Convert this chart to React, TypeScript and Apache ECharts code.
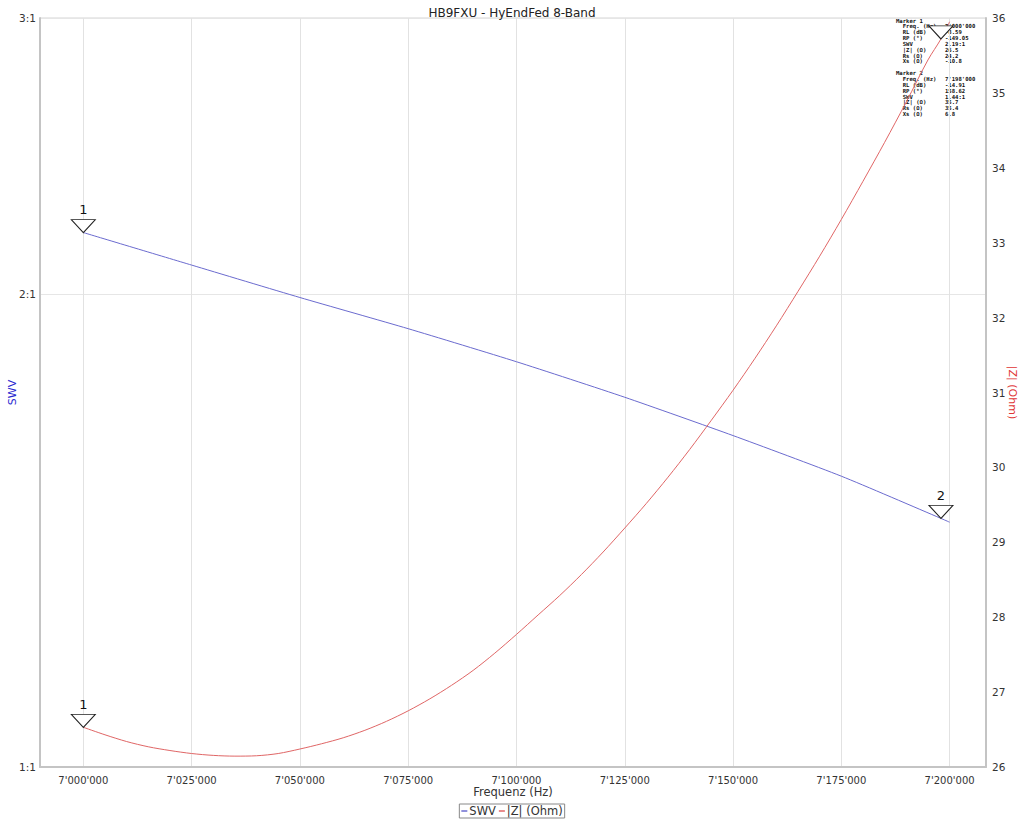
import React, { useEffect, useRef } from "react";
import * as echarts from "echarts";

const TITLE = "HB9FXU - HyEndFed 8-Band";
const X_TICKS = [7000000, 7025000, 7050000, 7075000, 7100000, 7125000, 7150000, 7175000, 7200000];
const SWV_TICKS = [1, 2, 3];

const SWV_FREQ = [7000000, 7025000, 7050000, 7075000, 7100000, 7125000, 7150000, 7175000, 7198000, 7200000];
const SWV_VALUES = [2.19, 2.088, 1.991, 1.902, 1.812, 1.72, 1.626, 1.532, 1.44, 1.432];

const Z_FREQ = [
  7000000, 7005000, 7010000, 7015000, 7020000, 7025000, 7030000, 7035000, 7040000, 7045000,
  7050000, 7055000, 7060000, 7065000, 7070000, 7075000, 7080000, 7085000, 7090000, 7095000,
  7100000, 7105000, 7110000, 7115000, 7120000, 7125000, 7130000, 7135000, 7140000, 7145000,
  7150000, 7155000, 7160000, 7165000, 7170000, 7175000, 7180000, 7185000, 7190000, 7195000,
  7198000, 7200000,
];
const Z_VALUES = [
  26.53, 26.43, 26.34, 26.27, 26.22, 26.18, 26.155, 26.145, 26.15, 26.18,
  26.24, 26.31, 26.39, 26.49, 26.61, 26.75, 26.91, 27.09, 27.29, 27.52,
  27.77, 28.03, 28.29, 28.57, 28.87, 29.19, 29.52, 29.87, 30.24, 30.63,
  31.03, 31.45, 31.89, 32.35, 32.82, 33.31, 33.82, 34.34, 34.88, 35.44,
  35.72, 35.95,
];

const MARKER1 = { freq: 7000000, swv: 2.19, z: 26.53 };
const MARKER2 = { freq: 7198000, swv: 1.44, z: 35.72 };

const INFO_LABELS = [
  "Marker 1",
  "  Freq. (Hz)",
  "  RL (dB)",
  "  RP (°)",
  "  SWV",
  "  |Z| (Ω)",
  "  Rs (Ω)",
  "  Xs (Ω)",
  "",
  "Marker 2",
  "  Freq. (Hz)",
  "  RL (dB)",
  "  RP (°)",
  "  SWV",
  "  |Z| (Ω)",
  "  Rs (Ω)",
  "  Xs (Ω)",
];
const INFO_VALUES = [
  "", "7'000'000", "-8.59", "-149.05", "2.19:1", "26.5", "24.2", "-10.8", "",
  "", "7'198'000", "-14.91", "158.62", "1.44:1", "35.7", "35.4", "6.8",
];

const BLUE = "#6b6bcf";
const RED = "#e06666";
const FONT = "'DejaVu Sans', sans-serif";

function fmtFreq(v: number) {
  const s = Math.round(v).toString();
  return s.replace(/\B(?=(\d{3})+(?!\d))/g, "'");
}

export default function App() {
  const ref = useRef<HTMLDivElement>(null);
  useEffect(() => {
    if (!ref.current) return;
    const chart = echarts.init(ref.current, null, { renderer: "svg" });

    const markerStyle = {
      symbol: "triangle",
      symbolRotate: 180,
      symbolSize: [24, 13],
      symbolOffset: [0, "-50%"],
      itemStyle: { color: "#ffffff", borderColor: "#222222", borderWidth: 1 },
      label: { show: true, position: "top", distance: 3, formatter: "{b}", color: "#111", fontSize: 13, fontFamily: FONT },
    };

    const mono = "'DejaVu Sans Mono', monospace";
    const infoGraphics: any[] = [];
    INFO_LABELS.forEach((t, i) => {
      const y = 17.5 + i * 5.85;
      if (t) {
        infoGraphics.push({
          type: "text",
          left: 896,
          top: y,
          style: { text: t.replace(/ /g, "\u00a0"), fontSize: 5.6, fontWeight: "bold", fontFamily: mono, fill: "#111" },
        });
      }
      if (INFO_VALUES[i]) {
        infoGraphics.push({
          type: "text",
          left: 945,
          top: y,
          style: { text: INFO_VALUES[i], fontSize: 5.6, fontWeight: "bold", fontFamily: mono, fill: "#111" },
        });
      }
    });

    const axisLineStyle = { show: true, lineStyle: { color: "#c4c4c4", width: 2 } };

    chart.setOption({
      animation: false,
      textStyle: { fontFamily: FONT },
      title: {
        text: TITLE,
        left: "center",
        top: 2,
        textStyle: { fontSize: 12, fontWeight: "normal", color: "#222", fontFamily: FONT },
      },
      grid: {
        left: 40, right: 38, top: 18, bottom: 52,
        show: true, borderColor: "#d4d4d4", borderWidth: 1,
        containLabel: false, outerBoundsMode: "none",
      },
      legend: {
        bottom: 1,
        left: "center",
        data: ["SWV", "|Z| (Ohm)"],
        icon: "rect",
        itemWidth: 6,
        itemHeight: 1.5,
        itemGap: 3,
        borderColor: "#888",
        borderWidth: 1,
        padding: [1, 2],
        textStyle: { fontSize: 11.5, color: "#333", padding: [0, 0, 0, -3], fontFamily: FONT },
      },
      xAxis: {
        type: "value",
        min: 6990000,
        max: 7208400,
        name: "Frequenz (Hz)",
        nameLocation: "middle",
        nameGap: 19,
        nameMoveOverlap: false,
        nameTextStyle: { fontSize: 11.5, color: "#333", verticalAlign: "top" },
        axisLine: axisLineStyle,
        axisTick: { show: false, customValues: X_TICKS },
        axisLabel: { customValues: X_TICKS, formatter: (v: number) => fmtFreq(v), fontSize: 10, color: "#333", margin: 8 },
        splitLine: { show: true, lineStyle: { color: "#e2e2e2", width: 1 } },
      },
      yAxis: [
        {
          type: "log",
          logBase: 3,
          min: 1,
          max: 3,
          position: "left",
          name: "SWV",
          nameLocation: "middle",
          nameGap: 22,
          nameMoveOverlap: false,
          nameRotate: 90,
          nameTextStyle: { fontSize: 11, color: "#2828d0" },
          axisLine: axisLineStyle,
          axisTick: { show: false, customValues: SWV_TICKS },
          axisLabel: { customValues: SWV_TICKS, formatter: (v: number) => `${Math.round(v)}:1`, fontSize: 10.5, color: "#333", margin: 4 },
          splitLine: { show: true, lineStyle: { color: "#e6e6e6", width: 1 } },
        },
        {
          type: "value",
          min: 26,
          max: 36,
          interval: 1,
          position: "right",
          name: "|Z| (Ohm)",
          nameLocation: "middle",
          nameGap: 21,
          nameMoveOverlap: false,
          nameRotate: -90,
          nameTextStyle: { fontSize: 11, color: "#e03434" },
          axisLine: axisLineStyle,
          axisTick: { show: false },
          axisLabel: { fontSize: 10.5, color: "#333", margin: 6 },
          splitLine: { show: false },
        },
      ],
      series: [
        {
          name: "SWV",
          type: "line",
          yAxisIndex: 0,
          data: SWV_FREQ.map((f, i) => [f, SWV_VALUES[i]]),
          showSymbol: false,
          symbol: "none",
          smooth: 0.2,
          lineStyle: { color: BLUE, width: 1 },
          itemStyle: { color: BLUE },
          z: 3,
          markPoint: {
            ...markerStyle,
            data: [
              { name: "1", coord: [MARKER1.freq, MARKER1.swv] },
              { name: "2", coord: [MARKER2.freq, MARKER2.swv] },
            ],
          },
        },
        {
          name: "|Z| (Ohm)",
          type: "line",
          yAxisIndex: 1,
          data: Z_FREQ.map((f, i) => [f, Z_VALUES[i]]),
          showSymbol: false,
          symbol: "none",
          smooth: 0.3,
          lineStyle: { color: RED, width: 1 },
          itemStyle: { color: RED },
          z: 3,
          markPoint: {
            ...markerStyle,
            data: [
              { name: "1", coord: [MARKER1.freq, MARKER1.z] },
              { name: "2", coord: [MARKER2.freq, MARKER2.z], label: { show: false } },
            ],
          },
        },
      ],
      graphic: infoGraphics,
    });
    return () => chart.dispose();
  }, []);
  return <div ref={ref} style={{ position: "absolute", left: 0, top: 0, width: 1024, height: 819 }} />;
}
